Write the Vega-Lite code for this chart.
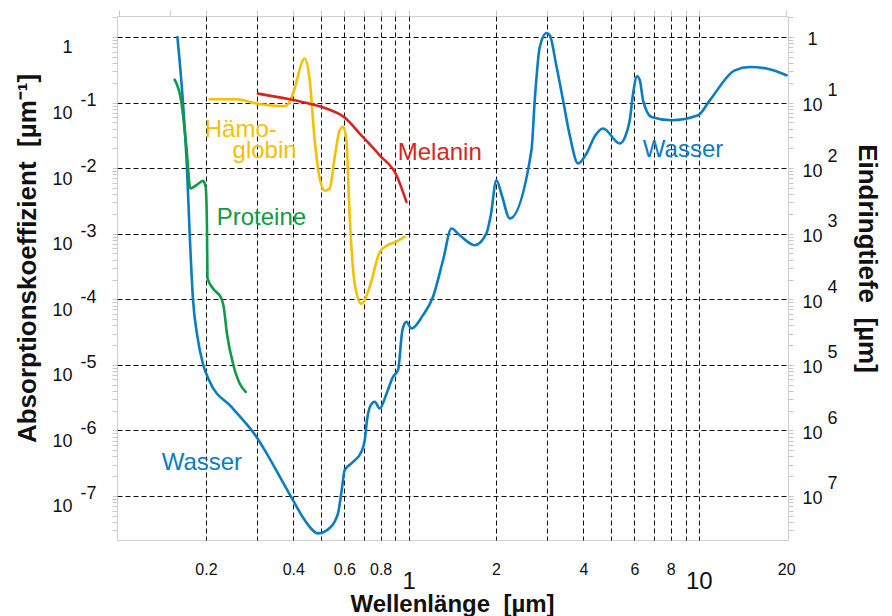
{
  "$schema": "https://vega.github.io/schema/vega-lite/v6.json",
  "width": 671,
  "height": 524,
  "autosize": {"type": "none"},
  "padding": {"left": 117, "top": 16, "right": 104, "bottom": 76},
  "background": "white",
  "view": {"stroke": "#cfcfcf", "strokeWidth": 1},
  "config": {
    "font": "Liberation Sans",
    "axis": {"labelFont": "Liberation Sans", "titleFont": "Liberation Sans", "labelColor": "#111111", "titleColor": "#111111"}
  },
  "datasets": {
    "curves": [
      {"s": "Wasser", "wl": 0.1594, "a": 1},
      {"s": "Wasser", "wl": 0.1666, "a": 0.101},
      {"s": "Wasser", "wl": 0.172, "a": 0.01},
      {"s": "Wasser", "wl": 0.1757, "a": 1.02e-3},
      {"s": "Wasser", "wl": 0.1804, "a": 1e-4},
      {"s": "Wasser", "wl": 0.1865, "a": 2.84e-5},
      {"s": "Wasser", "wl": 0.1953, "a": 1.03e-5},
      {"s": "Wasser", "wl": 0.2048, "a": 5.85e-6},
      {"s": "Wasser", "wl": 0.247, "a": 2.19e-6},
      {"s": "Wasser", "wl": 0.2985, "a": 7.98e-7},
      {"s": "Wasser", "wl": 0.3112, "a": 5.97e-7},
      {"s": "Wasser", "wl": 0.399, "a": 8.65e-8},
      {"s": "Wasser", "wl": 0.4378, "a": 4.29e-8},
      {"s": "Wasser", "wl": 0.4875, "a": 2.69e-8},
      {"s": "Wasser", "wl": 0.534, "a": 3.24e-8},
      {"s": "Wasser", "wl": 0.5705, "a": 5.43e-8},
      {"s": "Wasser", "wl": 0.5875, "a": 1.23e-7},
      {"s": "Wasser", "wl": 0.6015, "a": 2.48e-7},
      {"s": "Wasser", "wl": 0.636, "a": 3.17e-7},
      {"s": "Wasser", "wl": 0.6869, "a": 4.72e-7},
      {"s": "Wasser", "wl": 0.7053, "a": 7.11e-7},
      {"s": "Wasser", "wl": 0.7182, "a": 1.44e-6},
      {"s": "Wasser", "wl": 0.7396, "a": 2.43e-6},
      {"s": "Wasser", "wl": 0.7634, "a": 2.73e-6},
      {"s": "Wasser", "wl": 0.7943, "a": 2.16e-6},
      {"s": "Wasser", "wl": 0.8396, "a": 3.7e-6},
      {"s": "Wasser", "wl": 0.8828, "a": 6.56e-6},
      {"s": "Wasser", "wl": 0.9185, "a": 8.3e-6},
      {"s": "Wasser", "wl": 0.9512, "a": 3.38e-5},
      {"s": "Wasser", "wl": 0.982, "a": 4.52e-5},
      {"s": "Wasser", "wl": 1.022, "a": 3.59e-5},
      {"s": "Wasser", "wl": 1.12, "a": 5.73e-5},
      {"s": "Wasser", "wl": 1.213, "a": 1.09e-4},
      {"s": "Wasser", "wl": 1.313, "a": 3.94e-4},
      {"s": "Wasser", "wl": 1.404, "a": 1.2e-3},
      {"s": "Wasser", "wl": 1.499, "a": 9.48e-4},
      {"s": "Wasser", "wl": 1.689, "a": 6.68e-4},
      {"s": "Wasser", "wl": 1.853, "a": 1.01e-3},
      {"s": "Wasser", "wl": 1.918, "a": 1.91e-3},
      {"s": "Wasser", "wl": 2.006, "a": 6.54e-3},
      {"s": "Wasser", "wl": 2.093, "a": 3.86e-3},
      {"s": "Wasser", "wl": 2.23, "a": 1.71e-3},
      {"s": "Wasser", "wl": 2.649, "a": 1.87e-2},
      {"s": "Wasser", "wl": 2.719, "a": 0.108},
      {"s": "Wasser", "wl": 2.83, "a": 0.704},
      {"s": "Wasser", "wl": 2.985, "a": 1.15},
      {"s": "Wasser", "wl": 3.064, "a": 1.06},
      {"s": "Wasser", "wl": 3.226, "a": 0.37},
      {"s": "Wasser", "wl": 3.405, "a": 0.108},
      {"s": "Wasser", "wl": 3.59, "a": 0.0317},
      {"s": "Wasser", "wl": 3.836, "a": 0.01175},
      {"s": "Wasser", "wl": 4.1, "a": 0.0167},
      {"s": "Wasser", "wl": 4.38, "a": 0.0306},
      {"s": "Wasser", "wl": 4.677, "a": 0.0402},
      {"s": "Wasser", "wl": 5.34, "a": 0.0237},
      {"s": "Wasser", "wl": 5.645, "a": 0.0353},
      {"s": "Wasser", "wl": 5.78, "a": 0.0537},
      {"s": "Wasser", "wl": 5.935, "a": 0.137},
      {"s": "Wasser", "wl": 6.127, "a": 0.252},
      {"s": "Wasser", "wl": 6.261, "a": 0.219},
      {"s": "Wasser", "wl": 6.426, "a": 0.108},
      {"s": "Wasser", "wl": 6.87, "a": 0.0603},
      {"s": "Wasser", "wl": 8.05, "a": 0.0537},
      {"s": "Wasser", "wl": 9.94, "a": 0.064},
      {"s": "Wasser", "wl": 10.91, "a": 0.108},
      {"s": "Wasser", "wl": 13.31, "a": 0.31},
      {"s": "Wasser", "wl": 14.99, "a": 0.349},
      {"s": "Wasser", "wl": 17.12, "a": 0.33},
      {"s": "Wasser", "wl": 20.06, "a": 0.261},

      {"s": "Hämoglobin", "wl": 0.206, "a": 0.1122},
      {"s": "Hämoglobin", "wl": 0.2545, "a": 0.1122},
      {"s": "Hämoglobin", "wl": 0.2985, "a": 0.0966},
      {"s": "Hämoglobin", "wl": 0.3736, "a": 0.0878},
      {"s": "Hämoglobin", "wl": 0.3857, "a": 0.0976},
      {"s": "Hämoglobin", "wl": 0.399, "a": 0.137},
      {"s": "Hämoglobin", "wl": 0.4378, "a": 0.469},
      {"s": "Hämoglobin", "wl": 0.4557, "a": 0.219},
      {"s": "Hämoglobin", "wl": 0.474, "a": 0.0266},
      {"s": "Hämoglobin", "wl": 0.4933, "a": 7.02e-3},
      {"s": "Hämoglobin", "wl": 0.5133, "a": 4.52e-3},
      {"s": "Hämoglobin", "wl": 0.534, "a": 4.89e-3},
      {"s": "Hämoglobin", "wl": 0.5556, "a": 0.0148},
      {"s": "Hämoglobin", "wl": 0.5781, "a": 0.0378},
      {"s": "Hämoglobin", "wl": 0.5943, "a": 0.0428},
      {"s": "Hämoglobin", "wl": 0.6097, "a": 0.0266},
      {"s": "Hämoglobin", "wl": 0.6259, "a": 1.8e-3},
      {"s": "Hämoglobin", "wl": 0.6512, "a": 1.74e-4},
      {"s": "Hämoglobin", "wl": 0.6869, "a": 8.57e-5},
      {"s": "Hämoglobin", "wl": 0.7337, "a": 1.55e-4},
      {"s": "Hämoglobin", "wl": 0.7943, "a": 5.22e-4},
      {"s": "Hämoglobin", "wl": 0.8465, "a": 6.68e-4},
      {"s": "Hämoglobin", "wl": 0.907, "a": 7.55e-4},
      {"s": "Hämoglobin", "wl": 0.9687, "a": 9.0e-4},

      {"s": "Melanin", "wl": 0.3023, "a": 0.137},
      {"s": "Melanin", "wl": 0.3888, "a": 0.1122},
      {"s": "Melanin", "wl": 0.4619, "a": 0.0942},
      {"s": "Melanin", "wl": 0.5203, "a": 0.081},
      {"s": "Melanin", "wl": 0.6015, "a": 0.059},
      {"s": "Melanin", "wl": 0.6776, "a": 0.0337},
      {"s": "Melanin", "wl": 0.7943, "a": 0.0157},
      {"s": "Melanin", "wl": 0.907, "a": 7.8e-3},
      {"s": "Melanin", "wl": 0.982, "a": 3.05e-3},

      {"s": "Proteine", "wl": 0.156, "a": 0.224},
      {"s": "Proteine", "wl": 0.1645, "a": 0.102},
      {"s": "Proteine", "wl": 0.1712, "a": 0.021},
      {"s": "Proteine", "wl": 0.1767, "a": 4.89e-3},
      {"s": "Proteine", "wl": 0.1853, "a": 5.49e-3},
      {"s": "Proteine", "wl": 0.1953, "a": 6.38e-3},
      {"s": "Proteine", "wl": 0.1995, "a": 5.17e-3},
      {"s": "Proteine", "wl": 0.2016, "a": 1.27e-3},
      {"s": "Proteine", "wl": 0.2024, "a": 2.1e-4},
      {"s": "Proteine", "wl": 0.2114, "a": 1.46e-4},
      {"s": "Proteine", "wl": 0.226, "a": 1.03e-4},
      {"s": "Proteine", "wl": 0.2302, "a": 7.66e-5},
      {"s": "Proteine", "wl": 0.2362, "a": 3.01e-5},
      {"s": "Proteine", "wl": 0.2478, "a": 1.05e-5},
      {"s": "Proteine", "wl": 0.2614, "a": 5.2e-6},
      {"s": "Proteine", "wl": 0.2741, "a": 3.88e-6}
    ],
    "labels": [
      {"t": "Hämo-", "s": "Hämoglobin", "wl": 0.198, "a": 0.0296},
      {"t": "globin", "s": "Hämoglobin", "wl": 0.247, "a": 0.01416},
      {"t": "Melanin", "s": "Melanin", "wl": 0.9164, "a": 0.01319},
      {"t": "Proteine", "s": "Proteine", "wl": 0.2178, "a": 1.349e-3},
      {"t": "Wasser", "s": "Wasser", "wl": 0.1407, "a": 2.48e-7},
      {"t": "Wasser", "s": "Wasser", "wl": 6.41, "a": 0.01466}
    ]
  },
  "resolve": {"axis": {"x": "independent", "y": "independent"}},
  "layer": [
    {
      "data": {"name": "curves"},
      "transform": [{"filter": "datum.s === 'Wasser'"}],
      "mark": {"type": "line", "interpolate": "monotone", "strokeWidth": 2.6, "strokeCap": "round"},
      "encoding": {
        "x": {
          "field": "wl", "type": "quantitative",
          "scale": {"type": "log", "domain": [0.0987, 20.3], "nice": false},
          "axis": {
            "orient": "bottom",
            "values": [0.2, 0.3, 0.4, 0.5, 0.6, 0.7, 0.8, 0.9, 1, 2, 3, 4, 5, 6, 7, 8, 9, 10, 20],
            "labelExpr": "indexof([0.2, 0.4, 0.6, 0.8, 1, 2, 4, 6, 8, 10, 20], datum.value) >= 0 ? '' + datum.value : ''",
            "grid": true, "gridColor": "#111111", "gridDash": [5, 3], "gridWidth": 1,
            "gridOpacity": {"condition": {"test": "datum.value > 15", "value": 0}, "value": 1},
            "ticks": false, "domain": false,
            "labelFontSize": {"condition": {"test": "datum.value == 1 || datum.value == 10", "value": 24}, "value": 16},
            "labelBaseline": {"condition": {"test": "datum.value == 1 || datum.value == 10", "value": "top"}, "value": "middle"},
            "labelPadding": 29, "labelOverlap": false, "labelFlush": false, "labelBound": false,
            "title": "Wellenlänge\u00a0\u00a0[µm]", "titleFontSize": 24, "titleFontWeight": "bold",
            "titleX": 335, "titleY": 71, "titleAlign": "center", "titleBaseline": "alphabetic"
          }
        },
        "y": {
          "field": "a", "type": "quantitative",
          "scale": {"type": "log", "domain": [2.13e-8, 2.09], "nice": false},
          "axis": {
            "orient": "left",
            "values": [3e-8, 4e-8, 5e-8, 6e-8, 7e-8, 8e-8, 9e-8,
                       1e-7, 2e-7, 3e-7, 4e-7, 5e-7, 6e-7, 7e-7, 8e-7, 9e-7,
                       1e-6, 2e-6, 3e-6, 4e-6, 5e-6, 6e-6, 7e-6, 8e-6, 9e-6,
                       1e-5, 2e-5, 3e-5, 4e-5, 5e-5, 6e-5, 7e-5, 8e-5, 9e-5,
                       1e-4, 2e-4, 3e-4, 4e-4, 5e-4, 6e-4, 7e-4, 8e-4, 9e-4,
                       1e-3, 2e-3, 3e-3, 4e-3, 5e-3, 6e-3, 7e-3, 8e-3, 9e-3,
                       1e-2, 2e-2, 3e-2, 4e-2, 5e-2, 6e-2, 7e-2, 8e-2, 9e-2,
                       0.1, 0.2, 0.3, 0.4, 0.5, 0.6, 0.7, 0.8, 0.9, 1, 2],
            "labelExpr": "abs(log(datum.value) / LN10 - round(log(datum.value) / LN10)) < 0.001 ? (datum.value > 0.5 ? '1' : '10') : ''",
            "grid": true, "gridColor": "#111111", "gridDash": [5, 3], "gridWidth": 1,
            "gridOpacity": {"condition": {"test": "abs(log(datum.value) / LN10 - round(log(datum.value) / LN10)) < 0.001", "value": 1}, "value": 0},
            "ticks": true, "tickColor": "#c8c8c8", "tickSize": 5, "tickWidth": 1,
            "domain": false,
            "labelFontSize": 18, "labelAlign": "right", "labelBaseline": "middle",
            "labelPadding": 40, "labelOffset": 11, "labelOverlap": false, "labelBound": false,
            "title": "Absorptionskoeffizient\u00a0\u00a0[µm⁻¹]", "titleFontSize": 26, "titleFontWeight": "bold",
            "titleAngle": -90, "titleX": -82, "titleY": 242, "titleAlign": "center", "titleBaseline": "alphabetic"
          }
        },
        "color": {
          "field": "s", "type": "nominal", "legend": null,
          "scale": {"domain": ["Wasser", "Hämoglobin", "Melanin", "Proteine"], "range": ["#0a7cc1", "#f7bf00", "#d8241f", "#0f9a45"]}
        }
      }
    },
    {
      "data": {"name": "curves"},
      "transform": [{"filter": "datum.s === 'Hämoglobin'"}],
      "mark": {"type": "line", "interpolate": "monotone", "strokeWidth": 2.6, "strokeCap": "round"},
      "encoding": {
        "x": {
          "field": "wl", "type": "quantitative",
          "scale": {"type": "log", "domain": [0.0987, 20.3], "nice": false},
          "axis": {
            "orient": "top",
            "values": [0.1, 0.15, 0.2, 0.3, 0.4, 0.5, 0.6, 0.7, 0.8, 0.9, 1, 2, 3, 4, 5, 6, 7, 8, 9, 10, 20],
            "labels": false, "grid": false, "domain": false,
            "ticks": true, "tickColor": "#c8c8c8", "tickSize": 6, "tickWidth": 1,
            "title": null
          }
        },
        "y": {
          "field": "a", "type": "quantitative",
          "scale": {"type": "log", "domain": [2.13e-8, 2.09], "nice": false},
          "axis": {
            "orient": "left",
            "values": [1e-1, 1e-2, 1e-3, 1e-4, 1e-5, 1e-6, 1e-7],
            "labelExpr": "'-' + round(-log(datum.value) / LN10)",
            "grid": false, "ticks": false, "domain": false,
            "labelFontSize": 18, "labelAlign": "left", "labelBaseline": "middle",
            "labelPadding": 37, "labelOffset": -2, "labelOverlap": false, "labelBound": false,
            "title": null
          }
        },
        "color": {"field": "s", "type": "nominal", "legend": null}
      }
    },
    {
      "data": {"name": "curves"},
      "transform": [{"filter": "datum.s === 'Melanin'"}],
      "mark": {"type": "line", "interpolate": "monotone", "strokeWidth": 2.6, "strokeCap": "round"},
      "encoding": {
        "x": {
          "field": "wl", "type": "quantitative",
          "scale": {"type": "log", "domain": [0.0987, 20.3], "nice": false},
          "axis": null
        },
        "y": {
          "field": "a", "type": "quantitative",
          "scale": {"type": "log", "domain": [2.13e-8, 2.09], "nice": false},
          "axis": {
            "orient": "right",
            "values": [3e-8, 4e-8, 5e-8, 6e-8, 7e-8, 8e-8, 9e-8,
                       1e-7, 2e-7, 3e-7, 4e-7, 5e-7, 6e-7, 7e-7, 8e-7, 9e-7,
                       1e-6, 2e-6, 3e-6, 4e-6, 5e-6, 6e-6, 7e-6, 8e-6, 9e-6,
                       1e-5, 2e-5, 3e-5, 4e-5, 5e-5, 6e-5, 7e-5, 8e-5, 9e-5,
                       1e-4, 2e-4, 3e-4, 4e-4, 5e-4, 6e-4, 7e-4, 8e-4, 9e-4,
                       1e-3, 2e-3, 3e-3, 4e-3, 5e-3, 6e-3, 7e-3, 8e-3, 9e-3,
                       1e-2, 2e-2, 3e-2, 4e-2, 5e-2, 6e-2, 7e-2, 8e-2, 9e-2,
                       0.1, 0.2, 0.3, 0.4, 0.5, 0.6, 0.7, 0.8, 0.9, 1, 2],
            "labelExpr": "abs(log(datum.value) / LN10 - round(log(datum.value) / LN10)) < 0.001 ? (datum.value > 0.5 ? '1' : '10') : ''",
            "grid": false, "domain": false,
            "ticks": true, "tickColor": "#c8c8c8", "tickSize": 5, "tickWidth": 1,
            "labelFontSize": 18, "labelAlign": "center", "labelBaseline": "middle",
            "labelPadding": 19, "labelOffset": 3, "labelOverlap": false, "labelBound": false,
            "title": "Eindringtiefe\u00a0\u00a0[µm]", "titleFontSize": 26, "titleFontWeight": "bold",
            "titleAngle": 90, "titleX": 70, "titleY": 242, "titleAlign": "center", "titleBaseline": "alphabetic"
          }
        },
        "color": {"field": "s", "type": "nominal", "legend": null}
      }
    },
    {
      "data": {"name": "curves"},
      "transform": [{"filter": "datum.s === 'Proteine'"}],
      "mark": {"type": "line", "interpolate": "monotone", "strokeWidth": 2.6, "strokeCap": "round"},
      "encoding": {
        "x": {
          "field": "wl", "type": "quantitative",
          "scale": {"type": "log", "domain": [0.0987, 20.3], "nice": false},
          "axis": null
        },
        "y": {
          "field": "a", "type": "quantitative",
          "scale": {"type": "log", "domain": [2.13e-8, 2.09], "nice": false},
          "axis": {
            "orient": "right",
            "values": [1e-1, 1e-2, 1e-3, 1e-4, 1e-5, 1e-6, 1e-7],
            "labelExpr": "'' + round(-log(datum.value) / LN10)",
            "grid": false, "ticks": false, "domain": false,
            "labelFontSize": 18, "labelAlign": "left", "labelBaseline": "middle",
            "labelPadding": 39, "labelOffset": -12, "labelOverlap": false, "labelBound": false,
            "title": null
          }
        },
        "color": {"field": "s", "type": "nominal", "legend": null}
      }
    },
    {
      "data": {"name": "labels"},
      "mark": {"type": "text", "align": "left", "baseline": "alphabetic", "fontSize": 24, "font": "Liberation Sans"},
      "encoding": {
        "x": {
          "field": "wl", "type": "quantitative",
          "scale": {"type": "log", "domain": [0.0987, 20.3], "nice": false},
          "axis": null
        },
        "y": {
          "field": "a", "type": "quantitative",
          "scale": {"type": "log", "domain": [2.13e-8, 2.09], "nice": false},
          "axis": null
        },
        "text": {"field": "t"},
        "color": {"field": "s", "type": "nominal", "legend": null}
      }
    }
  ]
}
